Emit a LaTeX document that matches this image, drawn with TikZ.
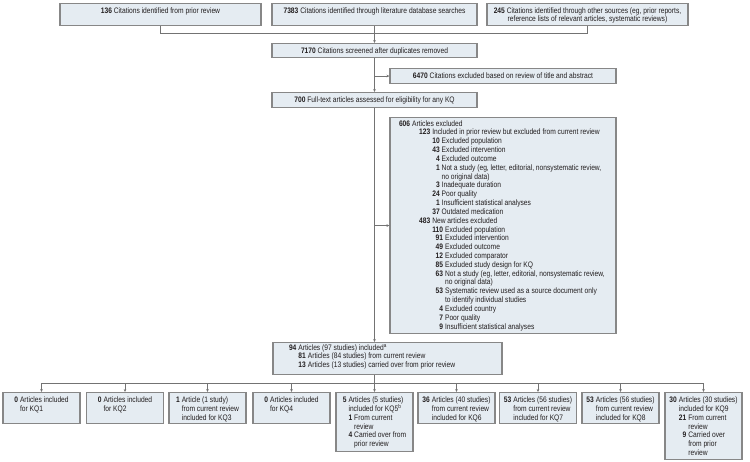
\documentclass[tikz,border=0pt]{standalone}
\usepackage{fontspec}
\setmainfont{Liberation Sans}[FakeStretch=0.84]
\usetikzlibrary{arrows.meta}
\definecolor{boxfill}{RGB}{229,236,242}
\definecolor{boxline}{RGB}{135,135,135}
\definecolor{conn}{RGB}{115,115,115}
\definecolor{txt}{RGB}{35,31,32}
\newcommand{\fs}{\fontsize{7.95}{8.83}\selectfont}
\newcommand{\nn}[1]{\textbf{#1}}
\newenvironment{lst}{\begin{tabular}[t]{@{}r@{\hspace{2pt}}l@{}}}{\end{tabular}}
\begin{document}
\begin{tikzpicture}[x=1pt,y=-1pt,
  box/.style={draw=boxline, fill=boxfill, line width=1.1pt, inner xsep=0pt, inner ysep=0pt, anchor=north, font=\fs, text=txt},
  topbox/.style={box, minimum width=#1, text height=9.5pt, text depth=12.5pt},
  kq/.style={box, minimum width=77pt, text height=10pt, text depth=#1},
  line/.style={draw=conn, line width=0.8pt},
  arr/.style={line, -{Stealth[length=3pt,width=2.6pt]}}]
\useasboundingbox (0,0) rectangle (750,461);

% top row
\node[topbox=201pt] (A) at (160.5,3) {\nn{136} Citations identified from prior review};
\node[topbox=205pt] (B) at (374.5,3) {\nn{7383} Citations identified through literature database searches};
\node[topbox=201pt] (C) at (587.5,3) {\begin{tabular}[t]{@{}c@{}}\nn{245} Citations identified through other sources (eg, prior reports,\\ reference lists of relevant articles, systematic reviews)\end{tabular}};

% main column
\node[box, minimum width=205pt, text height=9.5pt, text depth=4.5pt] (D) at (374.5,43) {\nn{7170} Citations screened after duplicates removed};
\node[box, minimum width=226pt, text height=10pt, text depth=5pt] (F) at (503,68) {\nn{6470} Citations excluded based on review of title and abstract};
\node[box, minimum width=205pt, text height=10pt, text depth=5pt] (E) at (374.5,92) {\nn{700} Full-text articles assessed for eligibility for any KQ};

\node[box, minimum width=226pt, text height=8.5pt, text depth=207.5pt] (G) at (503,117) {\makebox[208pt][l]{\begin{lst}
\nn{606} & Articles excluded\\
& \hspace{7pt}\begin{lst}
\nn{123} & Included in prior review but excluded from current review\\
& \begin{lst}
\nn{10} & Excluded population\\
\nn{43} & Excluded intervention\\
\nn{4} & Excluded outcome\\
\nn{1} & Not a study (eg, letter, editorial, nonsystematic review,\\
& no original data)\\
\nn{3} & Inadequate duration\\
\nn{24} & Poor quality\\
\nn{1} & Insufficient statistical analyses\\
\nn{37} & Outdated medication
\end{lst}\\
\nn{483} & New articles excluded\\
& \begin{lst}
\nn{110} & Excluded population\\
\nn{91} & Excluded intervention\\
\nn{49} & Excluded outcome\\
\nn{12} & Excluded comparator\\
\nn{85} & Excluded study design for KQ\\
\nn{63} & Not a study (eg, letter, editorial, nonsystematic review,\\
& no original data)\\
\nn{53} & Systematic review used as a source document only\\
& to identify individual studies\\
\nn{4} & Excluded country\\
\nn{7} & Poor quality\\
\nn{9} & Insufficient statistical analyses
\end{lst}
\end{lst}
\end{lst}}};

\node[box, minimum width=229pt, text height=7.5pt, text depth=24.5pt] (H) at (387.5,342) {\makebox[197pt][l]{\begin{lst}
\nn{94} & Articles (97 studies) included\smash{\textsuperscript{a}}\\
& \begin{lst}
\nn{81} & Articles (84 studies) from current review\\
\nn{13} & Articles (13 studies) carried over from prior review
\end{lst}
\end{lst}}};

% bottom row
\node[kq=21pt] (K1) at (41.5,392) {\begin{lst}\nn{0} & Articles included\\ & for KQ1\end{lst}};
\node[kq=21pt] (K2) at (125,392) {\begin{lst}\nn{0} & Articles included\\ & for KQ2\end{lst}};
\node[kq=21pt] (K3) at (207.5,392) {\begin{lst}\nn{1} & Article (1 study)\\ & from current review\\ & included for KQ3\end{lst}};
\node[kq=21pt] (K4) at (291.5,392) {\begin{lst}\nn{0} & Articles included\\ & for KQ4\end{lst}};
\node[kq=49pt] (K5) at (374.5,392) {\begin{lst}\nn{5} & Articles (5 studies)\\ & included for KQ5\smash{\textsuperscript{b}}\\ & \begin{lst}\nn{1} & From current\\ & review\\ \nn{4} & Carried over from\\ & prior review\end{lst}\end{lst}};
\node[kq=21pt] (K6) at (456.5,392) {\begin{lst}\nn{36} & Articles (40 studies)\\ & from current review\\ & included for KQ6\end{lst}};
\node[kq=21pt] (K7) at (538,392) {\begin{lst}\nn{53} & Articles (56 studies)\\ & from current review\\ & included for KQ7\end{lst}};
\node[kq=21pt] (K8) at (620.5,392) {\begin{lst}\nn{53} & Articles (56 studies)\\ & from current review\\ & included for KQ8\end{lst}};
\node[kq=57pt] (K9) at (703.5,392) {\begin{lst}\nn{30} & Articles (30 studies)\\ & included for KQ9\\ & \begin{lst}\nn{21} & From current\\ & review\\ \nn{9} & Carried over\\ & from prior\\ & review\end{lst}\end{lst}};

% connectors
\coordinate (j1) at (0,33);
\coordinate (bus) at (0,383);
\draw[line] (A.south) -- (A.south |- j1) -- (C.south |- j1) -- (C.south);
\draw[arr] (B.south) -- (D.north);
\draw[arr] (D.south) -- (E.north);
\draw[arr] (D.south |- F.west) -- (F.west);
\draw[arr] (E.south) -- (E.south |- H.north);
\draw[arr] (E.south |- G.west) -- (G.west);
\draw[line] (E.south |- H.south) -- (E.south |- bus);
\draw[line] (K1.north |- bus) -- (K9.north |- bus);
\foreach \k in {1,...,9} \draw[arr] (K\k.north |- bus) -- (K\k.north);
\end{tikzpicture}
\end{document}
